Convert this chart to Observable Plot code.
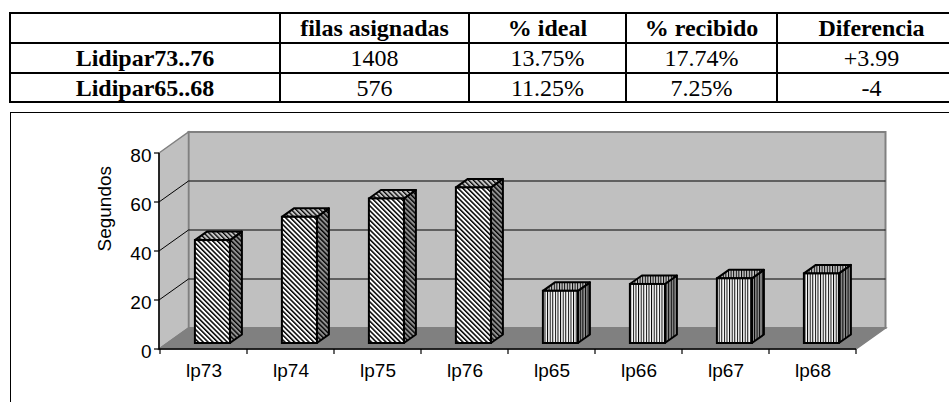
<!DOCTYPE html>
<html>
<head>
<meta charset="utf-8">
<script src="https://cdn.jsdelivr.net/npm/d3@7"></script>
<script src="https://cdn.jsdelivr.net/npm/@observablehq/plot@0.6"></script>
<style>
html,body{margin:0;padding:0;width:949px;height:402px;overflow:hidden;background:#fff;}
#tbl{position:absolute;left:9px;top:12px;border-collapse:collapse;table-layout:fixed;width:956px;
  font-family:"Liberation Serif","Times New Roman",serif;font-size:24px;color:#000;}
#tbl td,#tbl th{border:2px solid #000;padding:0;text-align:center;white-space:nowrap;overflow:hidden;line-height:26px;}
#tbl th{font-weight:bold;}
#tbl td.lbl{font-weight:bold;}
#frame{position:absolute;left:10px;top:112px;width:960px;height:320px;border:1px solid #000;box-sizing:border-box;}
#chart{position:absolute;left:0;top:102px;}
</style>
</head>
<body>
<div id="frame"></div>
<table id="tbl"></table>
<div id="chart"></div>
<script>
// ---------- data ----------
const tableHeaders = ["", "filas asignadas", "% ideal", "% recibido", "Diferencia"];
const tableRowLabels = ["Lidipar73..76", "Lidipar65..68"];
const filasAsignadas = ["1408", "576"];
const pctIdeal = ["13.75%", "11.25%"];
const pctRecibido = ["17.74%", "7.25%"];
const diferencia = ["+3.99", "-4"];

const categories = ["lp73", "lp74", "lp75", "lp76", "lp65", "lp66", "lp67", "lp68"];
const seconds = [42, 51.5, 59, 63.5, 21.3, 24.1, 26.4, 28.4];
const seriesOf = ["A", "A", "A", "A", "B", "B", "B", "B"];
const yTicks = [0, 20, 40, 60, 80];
const yLabel = "Segundos";

// ---------- table ----------
const tbl = document.getElementById("tbl");
const colW = [270, 189, 157, 151, 189];
const cg = document.createElement("colgroup");
colW.forEach(w => { const c = document.createElement("col"); c.style.width = w + "px"; cg.appendChild(c); });
tbl.appendChild(cg);
const hr = document.createElement("tr"); hr.style.height = "30px";
tableHeaders.forEach(h => { const th = document.createElement("th"); th.textContent = h; hr.appendChild(th); });
tbl.appendChild(hr);
tableRowLabels.forEach((lab, i) => {
  const tr = document.createElement("tr"); tr.style.height = i === 0 ? "30px" : "29px";
  [lab, filasAsignadas[i], pctIdeal[i], pctRecibido[i], diferencia[i]].forEach((v, j) => {
    const td = document.createElement("td"); td.textContent = v; if (j === 0) td.className = "lbl"; tr.appendChild(td);
  });
  tbl.appendChild(tr);
});

// ---------- chart ----------
const DX = 29.5, DY = 21;      // wall depth (px)
const OX = 8.9, OY = -6;       // bar front offset into depth
const BX = 12, BY = -8.5;      // bar depth

const data = categories.map((c, i) => ({cat: c, value: seconds[i], s: seriesOf[i]}));

const defs = `
<defs>
 <pattern id="dF" patternUnits="userSpaceOnUse" width="3.4" height="3.4" patternTransform="rotate(-45)">
  <rect width="3.4" height="3.4" fill="#fff"/><rect width="1.5" height="3.4" fill="#000"/></pattern>
 <pattern id="dS" patternUnits="userSpaceOnUse" width="3.4" height="3.4" patternTransform="rotate(-45)">
  <rect width="3.4" height="3.4" fill="#909090"/><rect width="1.4" height="3.4" fill="#000"/></pattern>
 <pattern id="dT" patternUnits="userSpaceOnUse" width="3.4" height="3.4" patternTransform="rotate(-45)">
  <rect width="3.4" height="3.4" fill="#c8c8c8"/><rect width="1.3" height="3.4" fill="#000"/></pattern>
 <pattern id="vF" patternUnits="userSpaceOnUse" width="2.6" height="4">
  <rect width="2.6" height="4" fill="#fff"/><rect width="1" height="4" fill="#000"/></pattern>
 <pattern id="vS" patternUnits="userSpaceOnUse" width="2.6" height="4">
  <rect width="2.6" height="4" fill="#909090"/><rect width="1" height="4" fill="#000"/></pattern>
 <pattern id="vT" patternUnits="userSpaceOnUse" width="2.6" height="4">
  <rect width="2.6" height="4" fill="#c8c8c8"/><rect width="1" height="4" fill="#000"/></pattern>
</defs>`;

function scaffold(index, scales) {
  const x = scales.x, y = scales.y;
  const [X0, X1] = x.range();
  const Y0 = y(0), YT = y(yTicks[yTicks.length - 1]);
  const g = d3.create("svg:g");
  g.html(defs);
  const poly = pts => "M" + pts.map(p => p.join(",")).join("L") + "Z";
  // back wall
  g.append("path").attr("d", poly([[X0 + DX, YT - DY], [X1 + DX, YT - DY], [X1 + DX, Y0 - DY], [X0 + DX, Y0 - DY]]))
    .attr("fill", "#c0c0c0").attr("stroke", "#808080").attr("stroke-width", 2);
  // left wall
  g.append("path").attr("d", poly([[X0, YT], [X0 + DX, YT - DY], [X0 + DX, Y0 - DY], [X0, Y0]]))
    .attr("fill", "#c0c0c0").attr("stroke", "#808080").attr("stroke-width", 1.5);
  // floor
  g.append("path").attr("d", poly([[X0, Y0], [X1, Y0], [X1 + DX, Y0 - DY], [X0 + DX, Y0 - DY]]))
    .attr("fill", "#808080").attr("stroke", "#808080").attr("stroke-width", 1.5);
  // gridlines + left wall diagonals
  yTicks.filter(v => v > 0 && v < yTicks[yTicks.length - 1]).forEach(v => {
    g.append("line").attr("x1", X0 + DX).attr("x2", X1 + DX).attr("y1", y(v) - DY).attr("y2", y(v) - DY)
      .attr("stroke", "#000").attr("stroke-width", 1);
    g.append("line").attr("x1", X0).attr("x2", X0 + DX).attr("y1", y(v)).attr("y2", y(v) - DY)
      .attr("stroke", "#000").attr("stroke-width", 1);
  });
  // axes lines
  g.append("line").attr("x1", X0).attr("x2", X0).attr("y1", YT).attr("y2", Y0 + 0.5).attr("stroke", "#000").attr("stroke-width", 1.5);
  g.append("line").attr("x1", X0).attr("x2", X1).attr("y1", Y0).attr("y2", Y0).attr("stroke", "#000").attr("stroke-width", 1.5);
  yTicks.forEach(v => {
    g.append("line").attr("x1", X0 - 5).attr("x2", X0).attr("y1", y(v)).attr("y2", y(v)).attr("stroke", "#000").attr("stroke-width", 1.2);
  });
  const step = x.step(), bw = x.bandwidth();
  const bounds = categories.map(c => x(c) - (step - bw) / 2).concat([X1]);
  bounds.forEach(b => {
    g.append("line").attr("x1", b).attr("x2", b).attr("y1", Y0).attr("y2", Y0 + 5).attr("stroke", "#000").attr("stroke-width", 1.2);
  });
  return g.node();
}

function barFaces(index, scales) {
  const x = scales.x, y = scales.y;
  const bw = x.bandwidth();
  const g = d3.create("svg:g").attr("stroke", "#000").attr("stroke-width", 2).attr("stroke-linejoin", "round");
  data.forEach(d => {
    const fx1 = x(d.cat) + OX, fx2 = fx1 + bw, fy = y(d.value) + OY, fb = y(0) + OY;
    const A = d.s === "A";
    g.append("path").attr("d", `M${fx2},${fy}L${fx2 + BX},${fy + BY}L${fx2 + BX},${fb + BY}L${fx2},${fb}Z`)
      .attr("fill", A ? "url(#dS)" : "url(#vS)");
    g.append("path").attr("d", `M${fx1},${fy}L${fx1 + BX},${fy + BY}L${fx2 + BX},${fy + BY}L${fx2},${fy}Z`)
      .attr("fill", A ? "url(#dT)" : "url(#vT)");
  });
  return g.node();
}

const plot = Plot.plot({
  width: 949, height: 300,
  marginLeft: 159, marginRight: 93, marginTop: 51, marginBottom: 53,
  style: {background: "transparent", fontFamily: "'Liberation Sans', Arial, sans-serif", fontSize: "19px", overflow: "visible", color: "#000"},
  x: {type: "band", domain: categories, paddingInner: 0.6, paddingOuter: 0.3, axis: null},
  y: {domain: [0, 80], axis: null},
  marks: [
    scaffold,
    Plot.text(yTicks, {y: d => d, text: d => String(d), frameAnchor: "left", dx: -8, dy: 2.5, textAnchor: "end", fontSize: 19, fill: "#000"}),
    Plot.text(categories, {x: d => d, text: d => d, frameAnchor: "bottom", lineAnchor: "top", dy: 14, fontSize: 19, fill: "#000"}),
    Plot.text([yLabel], {text: d => d, frameAnchor: "left", rotate: -90, dx: -55, fontSize: 19, fill: "#000"}),
    barFaces,
    Plot.barY(data.filter(d => d.s === "A"), {x: "cat", y: "value", dx: OX, dy: OY, fill: "url(#dF)", stroke: "#000", strokeWidth: 2}),
    Plot.barY(data.filter(d => d.s === "B"), {x: "cat", y: "value", dx: OX, dy: OY, fill: "url(#vF)", stroke: "#000", strokeWidth: 2})
  ]
});
document.getElementById("chart").appendChild(plot);
</script>
</body>
</html>
